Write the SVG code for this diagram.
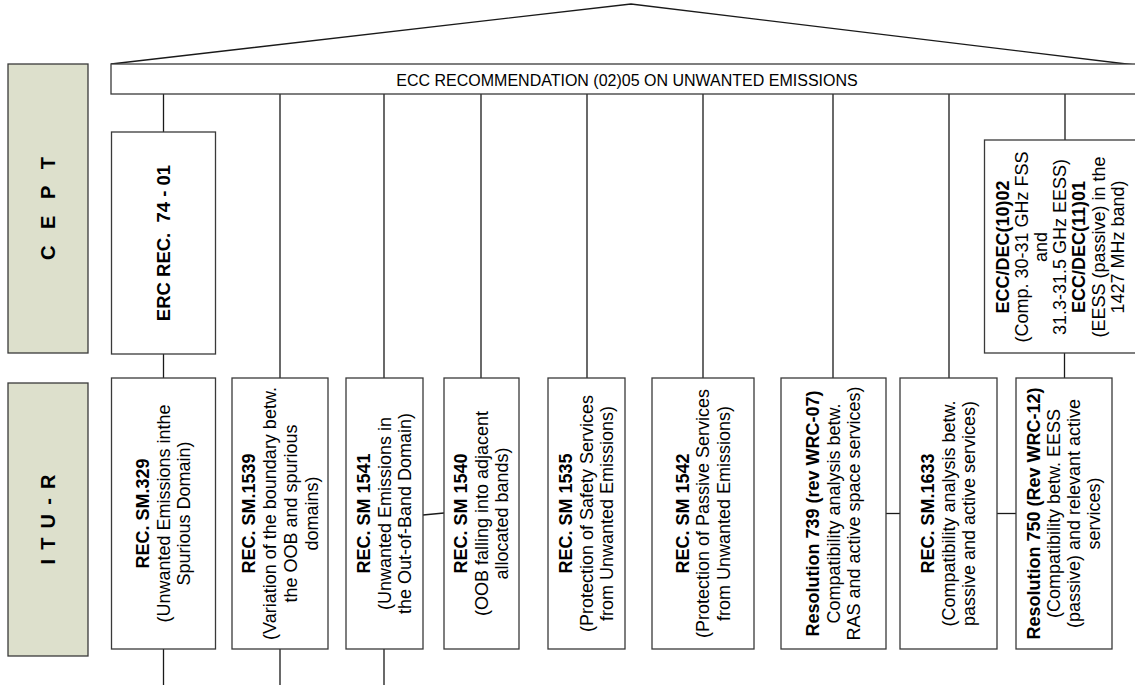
<svg xmlns="http://www.w3.org/2000/svg" width="1135" height="685" viewBox="0 0 1135 685">
<style>
text{font-family:"Liberation Sans",Arial,sans-serif;fill:#000;text-anchor:middle}
.box{fill:#fff;stroke:#3a3a3a;stroke-width:1.3}
.lab{fill:#dde0cc;stroke:#3a3a3a;stroke-width:1.3}
.t{font-size:18px}
.e{font-size:18px}
.b{font-weight:bold}
.lt{font-size:20px;font-weight:bold}
.c line,.c polyline{stroke:#1a1a1a;stroke-width:1.3;fill:none}
</style>
<rect width="1135" height="685" fill="#fff"/>
<g id="cept-label"><rect class="lab" x="8" y="64" width="80" height="289"/>
<text class="lt" transform="rotate(-90 48 208.5)" x="48" y="215.5" textLength="103" lengthAdjust="spacing">C E P T</text></g>
<g id="itu-label"><rect class="lab" x="8" y="383" width="80" height="273"/>
<text class="lt" transform="rotate(-90 48 519.5)" x="48" y="526.5" textLength="90" lengthAdjust="spacing">I T U - R</text></g>
<g class="c" id="connectors">
<polyline points="111,64 631,4 1135,65"/>
<line x1="163.5" y1="94" x2="163.5" y2="132"/>
<line x1="163.5" y1="354" x2="163.5" y2="378"/>
<line x1="280" y1="94" x2="280" y2="378"/>
<line x1="384" y1="94" x2="384" y2="378"/>
<line x1="481" y1="94" x2="481" y2="378"/>
<line x1="587" y1="94" x2="587" y2="378"/>
<line x1="703" y1="94" x2="703" y2="378"/>
<line x1="833" y1="94" x2="833" y2="378"/>
<line x1="949" y1="94" x2="949" y2="378"/>
<line x1="1065" y1="94" x2="1065" y2="140"/>
<line x1="1064.5" y1="353" x2="1064.5" y2="378"/>
<line x1="423" y1="515" x2="444" y2="513"/>
<line x1="886" y1="513.5" x2="900" y2="513.5"/>
<line x1="997" y1="513.5" x2="1016" y2="513.5"/>
<line x1="163.5" y1="649" x2="163.5" y2="685"/>
<line x1="280" y1="649" x2="280" y2="685"/>
<line x1="384" y1="649" x2="384" y2="685"/>
</g>
<g id="ecc-rec"><rect class="box" x="111" y="64" width="1040" height="30"/>
<text x="627" y="85.5" style="font-size:16px">ECC RECOMMENDATION (02)05 ON UNWANTED EMISSIONS</text></g>
<g id="erc-rec"><rect class="box" x="111.5" y="132" width="104" height="222"/>
<text class="b" transform="rotate(-90 163.5 243)" x="163.5" y="249.5" style="font-size:18.5px;white-space:pre" xml:space="preserve">ERC REC.  74 - 01</text></g>
<g id="ecc-dec"><rect class="box" x="984.5" y="140" width="160" height="213"/>
<text class="e" transform="rotate(-90 1060 247)"><tspan x="1060" y="195.5" class="b">ECC/DEC(10)02</tspan><tspan x="1060" dy="19.2">(Comp. 30-31 GHz FSS</tspan><tspan x="1060" dy="19.2">and</tspan><tspan x="1060" dy="19.2">31.3-31.5 GHz EESS)</tspan><tspan x="1060" dy="19.2" class="b">ECC/DEC(11)01</tspan><tspan x="1060" dy="19.2">(EESS (passive) in the</tspan><tspan x="1060" dy="19.2">1427 MHz band)</tspan></text></g>
<g id="sm329"><rect class="box" x="111.5" y="378" width="104" height="271"/>
<text class="t" transform="rotate(-90 163.5 513.5)"><tspan x="163.5" y="499" class="b">REC. SM.329</tspan><tspan x="163.5" dy="20.5">(Unwanted Emissions inthe</tspan><tspan x="163.5" dy="20.5">Spurious Domain)</tspan></text></g>
<g id="sm1539"><rect class="box" x="232" y="378" width="96" height="271"/>
<text class="t" transform="rotate(-90 280 513.5)"><tspan x="280" y="488.5" class="b">REC. SM.1539</tspan><tspan x="280" dy="21">(Variation of the boundary betw.</tspan><tspan x="280" dy="21">the OOB and spurious</tspan><tspan x="280" dy="21">domains)</tspan></text></g>
<g id="sm1541"><rect class="box" x="346" y="378" width="77" height="271"/>
<text class="t" transform="rotate(-90 384.5 513.5)"><tspan x="384.5" y="499" class="b">REC. SM 1541</tspan><tspan x="384.5" dy="20.5">(Unwanted Emissions in</tspan><tspan x="384.5" dy="20.5">the Out-of-Band Domain)</tspan></text></g>
<g id="sm1540"><rect class="box" x="444" y="378" width="75" height="271"/>
<text class="t" transform="rotate(-90 481.5 513.5)"><tspan x="481.5" y="499" class="b">REC. SM 1540</tspan><tspan x="481.5" dy="20.5">(OOB falling into adjacent</tspan><tspan x="481.5" dy="20.5">allocated bands)</tspan></text></g>
<g id="sm1535"><rect class="box" x="548" y="378" width="77" height="271"/>
<text class="t" transform="rotate(-90 586.5 513.5)"><tspan x="586.5" y="499" class="b">REC. SM 1535</tspan><tspan x="586.5" dy="20.5">(Protection of Safety Services</tspan><tspan x="586.5" dy="20.5">from Unwanted Emissions)</tspan></text></g>
<g id="sm1542"><rect class="box" x="652" y="378" width="102" height="271"/>
<text class="t" transform="rotate(-90 703 513.5)"><tspan x="703" y="499" class="b">REC. SM 1542</tspan><tspan x="703" dy="20.5">(Protection of Passive Services</tspan><tspan x="703" dy="20.5">from Unwanted Emissions)</tspan></text></g>
<g id="res739"><rect class="box" x="781" y="378" width="105" height="271"/>
<text class="t" transform="rotate(-90 833.5 513.5)"><tspan x="833.5" y="499" class="b">Resolution 739 (rev WRC-07)</tspan><tspan x="833.5" dy="20.5">Compatibility analysis betw.</tspan><tspan x="833.5" dy="20.5">RAS and active space services)</tspan></text></g>
<g id="sm1633"><rect class="box" x="900" y="378" width="97" height="271"/>
<text class="t" transform="rotate(-90 948.5 513.5)"><tspan x="948.5" y="499" class="b">REC. SM.1633</tspan><tspan x="948.5" dy="20.5">(Compatibility analysis betw.</tspan><tspan x="948.5" dy="20.5">passive and active services)</tspan></text></g>
<g id="res750"><rect class="box" x="1016" y="378" width="96" height="271"/>
<text class="t" transform="rotate(-90 1064 513.5)"><tspan x="1064" y="489" class="b">Resolution 750 (Rev WRC-12)</tspan><tspan x="1064" dy="20.3">(Compatibility betw. EESS</tspan><tspan x="1064" dy="20.3">(passive) and relevant active</tspan><tspan x="1064" dy="20.3">services)</tspan></text></g>
</svg>
